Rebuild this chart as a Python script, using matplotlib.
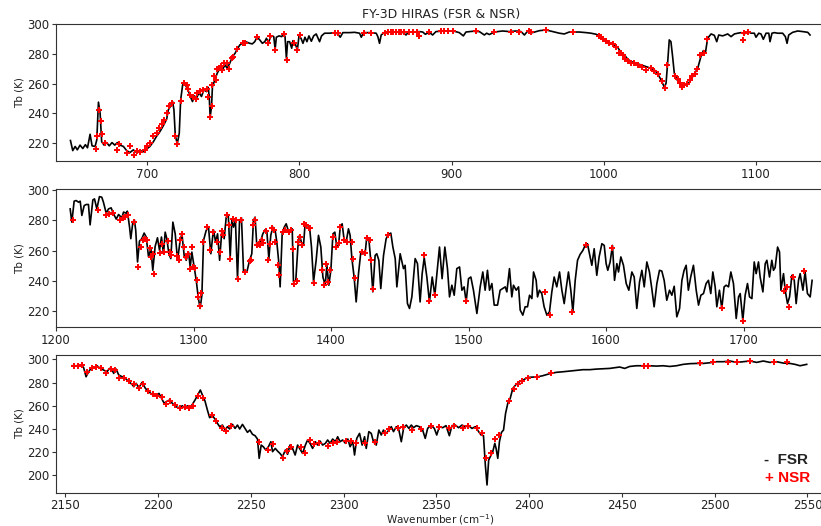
import matplotlib
matplotlib.use("Agg")
import matplotlib.pyplot as plt

# ---------------- Panel 1 (650-1136 cm-1) ----------------
fsr1_x = [649.5, 651, 652.6, 654, 655.8, 657.6, 659.3, 660.7, 662.4, 663.7, 665.7, 666.8, 667.9, 669, 670,
          671.6, 673.3, 675, 676.8, 678.6, 680.3, 682, 684.3, 686.4, 688.6, 690.8, 693, 695.2, 697.4, 699.6,
          701.7, 704, 706, 708.3, 710.5, 712.7, 713.8, 715.3, 716.6, 717.5, 718.4, 719.7, 721, 721.9, 723.2,
          724, 725.4, 726.9, 728.4, 729.7, 731, 732.3, 734, 735.6, 737.2, 738.9, 740, 740.7, 741.3, 742.2,
          742.8, 744.4, 745.9, 747.7, 749.4, 751, 752.5, 754.2, 756, 757.7, 759, 760.8, 763, 765.1, 767.3,
          769, 770.6, 772.1, 773.9, 775.6, 777.2, 778.3, 779.6, 780.9, 782.2, 783.1, 784, 784.8, 786.6,
          788.3, 789.6, 790.5, 791.4, 792.2, 793.5, 794.9, 795.7, 797.5, 798.6, 799.7, 801, 802.3, 803.6,
          804.9, 806.2, 807.8, 809.3, 811, 813.2, 814.5, 816.5, 819.8, 823.1, 825.2, 826.8, 828.5, 832.9,
          836.2, 839.5, 840.6, 842.1, 846, 850.4, 851.5, 852.6, 853.7, 855.9, 859.2, 863.5, 867.8, 870,
          871.7, 876.6, 878.8, 881, 882.7, 885.3, 887.5, 889.7, 896.3, 901.8, 905, 907.7, 909.4, 913.8,
          918.2, 921.5, 923, 924.8, 928, 933.5, 937.9, 942.3, 945.6, 947.8, 950, 953.2, 957.6, 962, 966.4,
          970.8, 974, 977.3, 983.9, 988.3, 991.6, 994.9, 997, 999.7, 1002.5, 1005.8, 1009.1, 1011.3, 1013.5,
          1015.7, 1018, 1021.2, 1024.5, 1027.8, 1031, 1033.2, 1035.4, 1037.6, 1039.8, 1040.9, 1042, 1043,
          1044.1, 1045.2, 1046.3, 1047.9, 1049.6, 1051.4, 1053.6, 1055.4, 1057.3, 1059.5, 1061.7, 1063.9,
          1065.4, 1066.8, 1068.2, 1070.5, 1072.6, 1074.2, 1075.5, 1078.1, 1081.4, 1083.6, 1085.8, 1088,
          1090.2, 1092.3, 1094.6, 1096.7, 1098.9, 1100, 1101.8, 1103.3, 1104.8, 1106.6, 1108.4, 1109.2,
          1110.5, 1112.1, 1114.2, 1117.5, 1119.3, 1120.4, 1121.5, 1124.1, 1127.4, 1130.7, 1134, 1135.5]
fsr1_y = [221.8, 215, 217.8, 215.5, 218.7, 216.4, 219, 216.9, 226, 218.2, 217.8, 222.2, 247.6, 240, 221,
          218.7, 220.4, 218.2, 220.4, 218.7, 220.4, 218.7, 217.8, 215, 213.7, 215.5, 213.7, 215, 214.2, 216,
          217.8, 221, 224.5, 227.8, 231.7, 236.1, 242.4, 245, 248, 242.4, 225, 219.6, 226.7, 249, 259,
          260.8, 258.5, 255.4, 251, 248, 251.8, 250.3, 254, 251.4, 255.9, 254.7, 257.6, 251.4, 237.5, 244.7,
          258, 262.6, 267, 270.4, 269.3, 272.7, 270.4, 273.8, 278.3, 280.5, 283.2, 286.1, 287.7, 288.1, 287.2,
          286.8, 288.3, 291.3, 289.5, 287.2, 288.3, 290.6, 287.7, 291.3, 292.2, 291.7, 283.2, 291.3, 292.2,
          291.7, 293.5, 291.7, 277.1, 288.3, 288.3, 283.9, 289, 286.1, 282.7, 292.2, 290.6, 287.2, 291.3,
          288.3, 292.2, 288.6, 292.2, 293.5, 288.3, 292.2, 294, 294, 294.4, 293.5, 291.3, 294.4, 294.4,
          294.6, 294, 291.3, 294.4, 294.4, 294, 291.7, 287.2, 292.8, 294.6, 294.8, 294.8, 294.6, 292.8,
          294.8, 294.8, 295.1, 294.8, 293.3, 294.6, 292.8, 295.1, 295.5, 295.3, 294.4, 292.2, 294.8, 295.3,
          295.1, 292.8, 294, 293.1, 294.8, 295.5, 295.1, 295.5, 295.1, 292.8, 295.5, 294.4, 295.7, 296.2, 295.1,
          294, 293.5, 294.8, 294.8, 294.4, 294, 293.3, 292.2, 289.9, 288.3, 286.8, 284.5, 281, 279.4,
          276.5, 274.9, 273.8, 272.7, 271.5, 270.4, 269.3, 266.6, 262.6, 257.6, 260.4, 274.9, 289.5,
          288.3, 278.3, 267.1, 263, 260.4, 258.1, 259.2, 259.9, 263, 266.6, 270.4, 278.7,
          282.3, 281, 290.6, 293.5, 292.6, 288.3, 292.8, 292.2, 293.5, 291.7, 293.5, 294,
          294.4, 293.5, 295.1, 294, 294, 291.3, 294, 293.5, 289.9, 294, 294, 288.3,
          294, 294.4, 294, 294, 291.7, 287.2, 292.8, 294.6, 295.5, 295.1, 294.6, 292.8]

nsr1_x = [666.1, 667, 668.5, 669.4, 670, 672.2, 679.8, 681.4, 686.4, 688.6, 691.3, 693, 695.2, 698.5, 699.6,
          701.7, 704, 706.1, 707.9, 709.4, 710.9, 712.7, 714.4, 716, 718.4, 719.7, 721.9, 724, 725.8, 726.9,
          728, 729.7, 731.9, 732.8, 734.5, 736.7, 738.9, 740, 741.5, 742.2, 742.8, 743.7, 745, 745.9, 747.2,
          748.1, 749.4, 750.3, 752.1, 753.8, 755.4, 756.4, 759, 762.6, 764.2, 772.1, 779.3, 780.9, 784,
          789.6, 791.8, 796.2, 798.6, 800.1, 823.1, 825.2, 842.7, 847.1, 855.9, 858.1, 860.2, 861.3, 863.5,
          865.7, 866.7, 868.9, 872.2, 874.4, 877, 878.3, 885.3, 893, 895.2, 897.4, 900.7, 916, 928, 939,
          944.5, 950.6, 952.1, 962, 979.5, 996.6, 998.1, 999.7, 1001.4, 1003.2, 1005.8, 1008, 1009.7, 1011.3,
          1012.8, 1014.1, 1015.7, 1017.9, 1020.1, 1022.3, 1025.2, 1027.8, 1031, 1033.2, 1035.4, 1038.3,
          1040.2, 1041.3, 1047, 1048.6, 1050.1, 1051.4, 1053, 1054.5, 1056.3, 1058, 1059.6, 1061.4, 1063.2,
          1066.1, 1067.7, 1091.2, 1092.3, 1094.6]
nsr1_y = [216.2, 224.7, 242, 234.6, 226.3, 220, 215.5, 219.6, 213.7, 217.8, 211.9, 214.4, 214, 215.5, 217.8,
          220, 224.5, 226.7, 230, 233, 235.7, 240.2, 245.1, 246.9, 225, 219.6, 248.5, 260.8, 259.2, 256.3,
          252.5, 250.9, 249.6, 254, 255.4, 255.9, 256.3, 251.4, 237.5, 244.7, 259.2, 265.3, 262.6, 269.7, 270.4,
          272, 269.3, 273.8, 273.8, 269.7, 277.2, 278.3, 283.2, 287.2, 287.7, 291.3, 287.7, 292.2, 282.7,
          293.5, 276, 287.7, 282.7, 292.8, 294, 294, 294, 294, 294.4, 294.6, 294.8, 294.8, 294.8,
          294.8, 294.6, 294.6, 294.8, 294.6, 294.8, 292.2, 294.6, 295.5, 295.5, 295.5, 295.5, 295.5, 294.6, 295.1,
          294.6, 295.5, 295.1, 296.2, 294.8, 292.2, 291.3, 289.9, 289, 287.7, 286.8, 285, 280.5, 280.5,
          279.4, 276.5, 275.6, 273.8, 273.8, 272.7, 271.5, 269.3, 270.4, 268.9, 266.6, 262.1,
          257, 272.7, 265.3, 263, 260.8, 257.6, 259.2, 259.9, 262.6, 265.3, 266.6, 269.7, 279.4,
          280.5, 289.9, 289.5, 294.4, 295.1]

# ---------------- Panel 2 (1210-1750 cm-1) ----------------
fsr2_x = [1210.3, 1211.5, 1213.2, 1214.7, 1216.4, 1217.6, 1218.8, 1220.5, 1222, 1223.6, 1224.8, 1226.8, 1228,
          1229.7, 1231.6, 1233.3, 1234.5, 1236.5, 1238.2, 1240.1, 1241.8, 1243.8, 1245.5, 1247.9, 1249.1, 1251,
          1251.9, 1253.5, 1254.4, 1255.9, 1257, 1258, 1259.3, 1260.7, 1262.4, 1264.1, 1265.6, 1267.3, 1269,
          1270.4, 1272.1, 1273.8, 1275.3, 1276.7, 1278.2, 1279.4, 1280.6, 1282.1, 1283.5, 1285, 1286.7, 1288.4,
          1290.3, 1291.6, 1293.2, 1294.7, 1296.4, 1297.6, 1298.8, 1300.5, 1302, 1303.4, 1304.8, 1306.1, 1307.3,
          1309.2, 1310.9, 1312.6, 1314.5, 1316.1, 1317.5, 1319, 1320.6, 1322.3, 1323.8, 1325.3, 1326.7, 1327.9,
          1329.1, 1330.5, 1332, 1333.5, 1334.9, 1336.4, 1338.8, 1340.8, 1342.4, 1343.6, 1344.8, 1346.1, 1347.5,
          1349, 1350.4, 1352.1, 1353.3, 1354.8, 1356.2, 1357.7, 1359.4, 1360.6, 1362.1, 1363, 1364.5, 1366,
          1367.4, 1368.9, 1370.3, 1371.8, 1372.7, 1374.4, 1375.9, 1377.1, 1378.8, 1380, 1381.2, 1382.9, 1384.4,
          1385.8, 1387.3, 1389.2, 1390.9, 1392.6, 1394.1, 1395.8, 1397, 1398.4, 1399.9, 1401.4, 1402.8, 1404.2,
          1405.5, 1406.7, 1408.1, 1409.6, 1411, 1412.7, 1413.9, 1415.2, 1416.8, 1418.3, 1420, 1421.7, 1423.6,
          1424.8, 1426, 1427.5, 1428.9, 1430.4, 1432.1, 1433.3, 1434.8, 1436.2, 1438.2, 1440.1, 1441.8, 1443.5,
          1445, 1446.7, 1447.9, 1449.1, 1450.3, 1452.7, 1453.9, 1455.6, 1457.1, 1458.8, 1461.2, 1462.9, 1464.8,
          1466.3, 1467.8, 1469.7, 1471.6, 1473.6, 1475.5, 1477.5, 1478.9, 1480.8, 1482.8, 1484.7, 1486.2,
          1487.9, 1489.6, 1491.5, 1493.5, 1495.2, 1496.8, 1498.3, 1500, 1501.7, 1503.6, 1506.1, 1508.5, 1510.4,
          1512.1, 1513.8, 1515.3, 1517, 1518.7, 1521.1, 1523, 1524.9, 1526.7, 1527.9, 1529.8, 1531.5, 1532.7,
          1534.7, 1536.4, 1537.6, 1539.5, 1541.2, 1542.9, 1544.4, 1546.1, 1547.3, 1549.2, 1550.2, 1551.6,
          1553.3, 1555, 1557, 1558.9, 1560.6, 1562.3, 1564.2, 1566.2, 1567.9, 1569.6, 1571, 1572.7, 1574.4,
          1575.9, 1577.6, 1579.3, 1581.2, 1583.2, 1584.8, 1586.5, 1588.5, 1589.7, 1591.4, 1593.3, 1595, 1597,
          1598.7, 1600.1, 1601.3, 1603, 1604.7, 1606.2, 1607.9, 1609.1, 1610.8, 1612.7, 1614.7, 1616.6, 1618.8,
          1620.5, 1622.4, 1624.4, 1626.1, 1627.8, 1629.7, 1631.6, 1633.3, 1635, 1637, 1638.9, 1640.6, 1642.3,
          1644.2, 1646.2, 1647.9, 1649.6, 1651.5, 1653.5, 1655.2, 1656.8, 1658.3, 1659.9, 1661.6, 1663.6,
          1665.6, 1667.3, 1669, 1670.9, 1672.8, 1674.5, 1676.2, 1677.7, 1679.4, 1680.6, 1682.5, 1684.2, 1685.9,
          1687.4, 1689.1, 1690.8, 1692.7, 1694.7, 1696.4, 1697.6, 1699.5, 1701.2, 1702.9, 1704.4, 1706.1,
          1707.8, 1709.2, 1710.9, 1712.1, 1714.1, 1715.8, 1717, 1718.9, 1720.6, 1721.8, 1723, 1724.8, 1726.2,
          1727.2, 1729.1, 1730.3, 1732, 1733.5, 1735.2, 1736.9, 1738.3, 1740, 1741.2, 1743.2, 1744.8, 1746.5,
          1748.5, 1749.9]
fsr2_y = [287.5, 278.8, 292.6, 293, 291.9, 292.6, 283.2, 289.7, 290.4, 290.4, 277, 293.4, 294.1,
          287.5, 295.6, 295.2, 291.9, 284.7, 287.5, 288.2, 284.3, 280.8, 283.8, 281.6, 285.4, 284.7,
          286, 275.5, 267.9, 278.8, 280.3, 273.3, 252.6, 266.3, 267.9, 271.6, 269, 255.9, 261.3,
          247.1, 262.8, 268.5, 260.2, 269, 258, 272.2, 267.9, 258, 254.8, 278.8, 271.1, 253.7,
          266.8, 271.1, 256.9, 253.7, 259.1, 249.3, 259.1, 249.3, 240.5, 229.6, 222, 230.7, 266.8,
          273.3, 275.5, 258, 273.8, 265.7, 271.1, 253.7, 273.3, 267.9, 282.1, 283.2, 255.9, 281,
          275.5, 279.9, 241.6, 279.9, 281.6, 246, 246, 253.7, 258, 279.9, 282.1, 262.4, 263.5,
          266.8, 271.1, 273.8, 273.3, 254.8, 270.1, 275.5, 273.3, 265.7, 251.5, 236.2, 271.1, 275.5,
          277.7, 273.3, 272.2, 274.4, 239.5, 240.5, 262.4, 270.1, 264.6, 263.5, 278.1, 276.6, 275.5,
          262.4, 239.5, 253.7, 270.1, 262.4, 242.7, 237.3, 250.4, 237.3, 247.1, 271.1, 272.2, 262.4,
          263.5, 275.5, 277.7, 266.8, 265.7, 274.4, 270.1, 254.8, 242.7, 226.3, 244.9, 259.1, 258,
          258, 269, 267.9, 253.7, 232.9, 256.9, 258, 253.7, 235.1, 256.9, 267.9, 270.7, 271.6,
          262.4, 254.8, 236.2, 247.1, 258, 248.2, 250.4, 225.2, 222, 229.6, 254.8, 251.5, 226.3,
          244.9, 255.4, 242.7, 226.3, 242.7, 230.7, 249.3, 262.4, 241.6, 262.4, 248.2, 229.6,
          237.3, 230.7, 248.2, 249.3, 234, 236.2, 226.3, 241.6, 242.7, 234, 218.7, 236.2, 246,
          234, 247.1, 234, 238.4, 224.2, 224.2, 234, 235.1, 236.2, 232.9, 248.2, 229.6, 237.3,
          234, 236.2, 220.9, 217.6, 223.1, 223.1, 230.7, 228.5, 246, 240.5, 229.6, 234,
          231.8, 223.1, 217.6, 219.8, 232.9, 242.7, 236.2, 246, 234, 225.2, 235.1, 246, 234,
          219.8, 240.5, 253.7, 257.6, 260.2, 263.5, 264.6, 255.9, 250.4, 261.3, 243.8, 255.9, 264.6,
          263.5, 251.5, 247.1, 252.6, 263.5, 240.5, 251.5, 246, 255.9, 250.4, 238.4, 234, 246,
          242.7, 222, 239.5, 247.1, 236.2, 252.6, 246, 235.1, 223.1, 238.4, 247.1, 246.6, 240.5,
          227.4, 234, 230.7, 236.6, 216.5, 222, 240.5, 247.1, 250.4, 234, 242.7, 250.4,
          234, 224.2, 230.7, 231.8, 238.4, 240.5, 231.8, 246, 236.2, 223.1, 234, 222, 236.2,
          237.3, 236.2, 246, 238.4, 215.4, 229.6, 231.8, 214.3, 230.7, 238.4, 229.6, 228.5,
          252.6, 244.9, 252.6, 242.7, 232.9, 251.5, 253.7, 242.7, 253.7, 247.1, 248.9, 262.4, 259.1,
          234, 244.9, 234, 225.2, 229.6, 243.8, 240.5, 225.2, 240.5, 244.9, 234, 246, 231.8,
          229.6, 240.5]

nsr2_x = [1212.2, 1230.2, 1236.5, 1238.2, 1241.4, 1246.7, 1248.6, 1250.3, 1252.7, 1256.4, 1259.9, 1261.7,
          1263.2, 1264.8, 1266.1, 1268, 1269, 1270.4, 1271.4, 1275.3, 1277, 1278.2, 1281.2, 1282.6, 1283.5,
          1287.9, 1289.1, 1290.3, 1291.6, 1292.8, 1294.7, 1295.7, 1297.1, 1298.8, 1299.5, 1301.2, 1302.4,
          1303.4, 1304.4, 1305.8, 1306.8, 1309.7, 1312.1, 1314.5, 1317, 1319.4, 1320.6, 1321.8, 1324.7,
          1325.7, 1326.7, 1328.6, 1331, 1332, 1334.4, 1337.6, 1340.8, 1341.8, 1343.6, 1344.8, 1346.1,
          1347.3, 1348.5, 1349.7, 1350.9, 1352.8, 1354.5, 1355.8, 1357, 1358.2, 1359.6, 1361.1, 1362.1,
          1365, 1366.7, 1369.3, 1370.8, 1372.2, 1373.2, 1375.2, 1375.9, 1377.1, 1378.8, 1380.5, 1382,
          1383.7, 1384.8, 1387.3, 1393.3, 1395, 1396.4, 1398.1, 1399.4, 1401.1, 1403.7, 1405.5, 1406.7,
          1409.6, 1411.5, 1415.2, 1415.9, 1417.6, 1422.4, 1424.8, 1426, 1428, 1428.9, 1430.4, 1441.8,
          1467.8, 1471.6, 1475.5, 1498.3, 1555.8, 1559.4, 1575.6, 1585.6, 1604.7, 1684.2, 1699.5, 1729.1,
          1731.5, 1733.2, 1735.8, 1744]
nsr2_y = [279.9, 286.9, 283.6, 284.3, 285.1, 280.3, 281.6, 282.5, 283.2, 278.8, 249.3, 262.4,
          267.2, 267.9, 266.8, 262, 255.9, 257.6, 244.9, 258.4, 264.6, 259.1, 266.3, 259.1, 256.9,
          256.3, 253.7, 267.2, 271.1, 262.4, 255.8, 258, 248.2, 262.4, 249.3, 248.9, 241,
          229.6, 223.5, 232.2, 265.7, 275.5, 260.2, 272.2, 265.7, 259.1, 272.9, 270.1, 283.4,
          277, 254.8, 281, 280.5, 241.4, 279.9, 245.8, 253, 253.7, 276.6, 280.3, 263.5,
          264.6, 263.5, 267.2, 265, 272.9, 253.7, 264.6, 275, 273.3, 265.7, 250.4, 243.8,
          272.2, 273.8, 272.2, 273.8, 261.3, 238.4, 240.1, 265.7, 269, 263.5, 277.7, 276.6,
          274.9, 274.9, 238.8, 247.5, 237.3, 251.5, 239.5, 247.1, 269, 262.4, 265, 275.5,
          266.8, 265.7, 265.7, 254.8, 242.1, 259.1, 258.5, 268.5, 267.2, 254.1, 234.9, 270.1,
          256.9, 227, 230.7, 227, 232.5, 217.6, 219.8, 263.9, 261.7, 222.4, 213.9, 233.6,
          236.2, 223.1, 242.7, 246.7]

# ---------------- Panel 3 (2155-2550 cm-1) ----------------
fsr3_x = [2153.6, 2156.3, 2158.6, 2159.9, 2161.2, 2162.6, 2164.1, 2165.9, 2167.1, 2168.9, 2170.7, 2172.5,
          2173.8, 2175.2, 2176.1, 2177.4, 2178.8, 2180.6, 2182.4, 2184.2, 2186, 2186.9, 2188.2, 2189.6,
          2191.4, 2193.2, 2195, 2196.8, 2198.6, 2200.5, 2201.9, 2203.3, 2205, 2206.2, 2207.7, 2209.5,
          2211.3, 2213.1, 2214.5, 2215.8, 2217, 2218.5, 2219.9, 2221.4, 2222.8, 2223.9, 2225.3, 2226.6,
          2227.8, 2229.3, 2230.7, 2232, 2233.2, 2234.7, 2236.1, 2237.4, 2238.6, 2240.1, 2241.5, 2242.8,
          2244, 2245.5, 2246.9, 2248.2, 2249.5, 2250.9, 2252.3, 2253.6, 2254.5, 2255.6, 2256.7, 2258.1,
          2259.5, 2260.8, 2261.7, 2263.2, 2264.4, 2265.7, 2267.1, 2268.6, 2269.8, 2271.1, 2272.5, 2273.9,
          2275.2, 2276.5, 2277.9, 2279.4, 2280.6, 2281.9, 2283.3, 2284.8, 2286, 2287.3, 2288.7, 2290.2,
          2291.4, 2292.7, 2294.1, 2295.6, 2296.8, 2298.1, 2299.5, 2301, 2302.3, 2303.5, 2305, 2305.9,
          2307.1, 2308.6, 2310, 2311.3, 2312.2, 2313.6, 2314.9, 2316.1, 2317.6, 2319, 2320.3, 2321.5,
          2323, 2324.4, 2325.7, 2326.9, 2328.4, 2329.8, 2331.1, 2332.4, 2333.8, 2335.2, 2336.5, 2337.7,
          2339.2, 2340.8, 2342.6, 2344, 2345.3, 2347.1, 2348.9, 2350.2, 2351.6, 2353.4, 2355.2, 2357,
          2358.4, 2360.2, 2362, 2363.8, 2365.6, 2367.4, 2369.2, 2371, 2372.8, 2374.1, 2375.4, 2376.4,
          2377.3, 2378.2, 2379.5, 2380.4, 2381.5, 2382.2, 2383.1, 2384, 2385.1, 2386.2, 2387.3, 2388.5,
          2389.8, 2391.2, 2393, 2394.8, 2397, 2399.3, 2402, 2404.7, 2407.4, 2411, 2414.6, 2418.2, 2421.8,
          2425.4, 2429, 2432.6, 2436.2, 2439.8, 2443.4, 2446.1, 2448.8, 2451.5, 2454.2, 2457.8, 2461.4,
          2465, 2468.6, 2472.2, 2475.8, 2479.4, 2483, 2486.6, 2490.2, 2493.8, 2497.4, 2501, 2504.6, 2508.2,
          2511.8, 2515.4, 2519, 2522.6, 2526.2, 2529.8, 2533.4, 2537, 2540.6, 2543.3, 2546, 2549.6]
fsr3_y = [294.5, 294.5, 295.1, 292.8, 285, 289.3, 292.8, 292.8, 294.5, 292.2, 290.8, 289.3,
          292.2, 290.8, 287.9, 291.6, 286.5, 285, 283.6, 280.7, 278.4, 276.4, 279.3, 275.5,
          280.1, 274.9, 272, 269.7, 268.6, 270.6, 266.3, 262, 264, 264.8, 262, 259.1,
          258.2, 259.9, 257.6, 259.9, 257.6, 261.1, 264.8, 269.2, 273.5, 269.2, 264, 256.2,
          249.6, 251.3, 248.4, 244.7, 241.8, 243.2, 238.9, 241.8, 239.8, 243.8, 240.3, 243.2,
          239.8, 243.8, 240.3, 236.9, 238.9, 235.2, 234, 231.1, 214.4, 225.9, 224.5, 221.6,
          224.5, 228.8, 220.2, 223, 220.7, 218.7, 215.9, 221.6, 217.9, 225.9, 223, 217.3,
          225.9, 222.5, 218.7, 225.9, 230.3, 227.4, 223, 228.8, 225.9, 229.4, 225.9, 227.4,
          230.3, 227.4, 231.1, 228.8, 233.1, 228.8, 230.3, 227.4, 231.1, 224.5, 228.8, 217.3,
          231.7, 236, 225.9, 233.1, 223, 237.5, 236, 228.8, 225.9, 238.9, 234.6, 238.9,
          236, 238.9, 241.8, 237.5, 241.8, 238.9, 228.8, 240.9, 243.2, 240.3, 243.2, 240.9,
          242.7, 241.8, 238.9, 231.7, 240.3, 243.2, 240.3, 234.6, 241.8, 240.9, 242.7, 234,
          242.7, 243.2, 240.9, 243.2, 241.8, 242.7, 240.3, 241.8, 237.5, 234.6, 234, 208.6,
          191.4, 213, 217.3, 220.2, 227.4, 223, 214.4, 228.8, 236.9, 238.9, 253.3, 262,
          266.3, 274.9, 278.4, 280.7, 282.4, 284.4, 284.7, 285, 285.9, 287.6, 288.8, 289.3, 289.9,
          290.5, 291.1, 291.1, 291.6, 291.9, 292.2, 292.8, 293.4, 292.2, 293.9, 294.5, 294.5,
          294.5, 294.2, 294.5, 293.9, 294.5, 295.7, 296.3, 296.5, 296.5, 297.1, 298, 298, 298.6,
          297.4, 298, 298.6, 297.4, 298.6, 297.4, 298, 296.8, 296.5, 295.7, 294.5, 295.7]

nsr3_x = [2154.5, 2156.8, 2159, 2161.7, 2164.4, 2166.6, 2169.5, 2172, 2174.9, 2176.7, 2179.2, 2181.5,
          2184.2, 2186.9, 2189.6, 2191.8, 2194.7, 2197.2, 2199.5, 2201.9, 2204.1, 2206.2, 2209.1, 2211.6,
          2214.5, 2216.7, 2218.8, 2221.7, 2224.2, 2229.3, 2231.4, 2234.3, 2236.8, 2239.2, 2254.5, 2259,
          2261.7, 2267.1, 2269.3, 2271.6, 2277, 2279.4, 2281.9, 2284.3, 2286.9, 2291.4, 2294.1, 2296.3,
          2301.4, 2304, 2306.8, 2311.3, 2316.7, 2322.2, 2324.4, 2329.3, 2331.8, 2336.8, 2341.7, 2347.1,
          2351.6, 2356.6, 2359.7, 2364.2, 2367.3, 2371.8, 2374.6, 2376.8, 2379.5, 2381.8, 2384, 2389.4,
          2391.6, 2393.9, 2396.3, 2399.3, 2404.2, 2411.6, 2461.8, 2464.1, 2492, 2499.2, 2507, 2512.2,
          2519, 2532, 2539.2]
nsr3_y = [294.5, 294.5, 295.1, 288.8, 292.8, 293.7, 292.2, 287.9, 291.4, 290.8, 284.1, 284.1,
          281.3, 278.4, 275.5, 278.4, 272.6, 269.7, 268.6, 267.7, 261.1, 264, 260.5, 258.2,
          259.1, 257.6, 259.9, 268.6, 266.9, 251.9, 246.7, 240.9, 238, 242.7, 228.2, 221.6,
          226.5, 214.4, 220.7, 224.5, 224.5, 218.7, 230.3, 226.5, 228, 225.4, 227.4, 228.2,
          229.4, 229.4, 227.4, 227.4, 228.2, 236, 239.8, 240.3, 241.8, 238.9, 239.8, 242.7,
          241.5, 240.3, 242.7, 240.9, 242.4, 240.3, 236.6, 215, 218.7, 230.8, 234.6, 264,
          274.4, 279, 281.3, 284.1, 284.4, 287.9, 294.5, 294.5, 296.5, 297.4, 298, 298,
          298.6, 297.4, 297.4]

panels = [
    (fsr1_x, fsr1_y, nsr1_x, nsr1_y, (640, 1146), (207.8, 300.2), [700, 800, 900, 1000, 1100], [220, 240, 260, 280, 300]),
    (fsr2_x, fsr2_y, nsr2_x, nsr2_y, (1200, 1760), (209.6, 300.4), [1200, 1300, 1400, 1500, 1600, 1700], [220, 240, 260, 280, 300]),
    (fsr3_x, fsr3_y, nsr3_x, nsr3_y, (2145, 2560), (184.7, 303.8), [2150, 2200, 2250, 2300, 2350, 2400, 2450, 2500, 2550], [200, 220, 240, 260, 280, 300]),
]
rects = [
    [56 / 821, 1 - 161.3 / 526, 770 / 821, 137.3 / 526],
    [56 / 821, 1 - 327.3 / 526, 770 / 821, 138.0 / 526],
    [56 / 821, 1 - 492.7 / 526, 770 / 821, 137.7 / 526],
]

fig = plt.figure(figsize=(8.21, 5.26), dpi=100)
axes = []
for rect, (fx, fy, nx, ny, xl, yl, xt, yt) in zip(rects, panels):
    ax = fig.add_axes(rect)
    ax.plot(fx, fy, color='black', lw=1.2, zorder=2)
    ax.plot(nx, ny, linestyle='none', marker='+', color='red', ms=5, mew=1.4, zorder=3)
    ax.set_xlim(*xl)
    ax.set_ylim(*yl)
    ax.set_xticks(xt)
    ax.set_yticks(yt)
    ax.tick_params(labelsize=8.5, colors='#333333', labelcolor='#222222', length=3, pad=1.5)
    ax.set_ylabel('Tb (K)', fontsize=7.5, color='#222222')
    ax.yaxis.set_label_coords(-31 / 770, 0.5)
    for s in ax.spines.values():
        s.set_color('#333333')
    axes.append(ax)

axes[0].set_title('FY-3D HIRAS (FSR & NSR)', fontsize=9, color='#222222', pad=4)
axes[2].set_xlabel('Wavenumber (cm$^{-1}$)', fontsize=7.5, color='#222222')
axes[2].xaxis.set_label_coords(0.5, (492.7 - 512) / 137.7)

fig.text(808 / 821, 1 - 460 / 526, '-  FSR', ha='right', va='center', fontsize=11,
         fontweight='bold', color='#222222', family='Liberation Sans')
fig.text(810 / 821, 1 - 478 / 526, '+ NSR', ha='right', va='center', fontsize=11,
         fontweight='bold', color='red', family='Liberation Sans')

fig.savefig('out.png', dpi=100)
